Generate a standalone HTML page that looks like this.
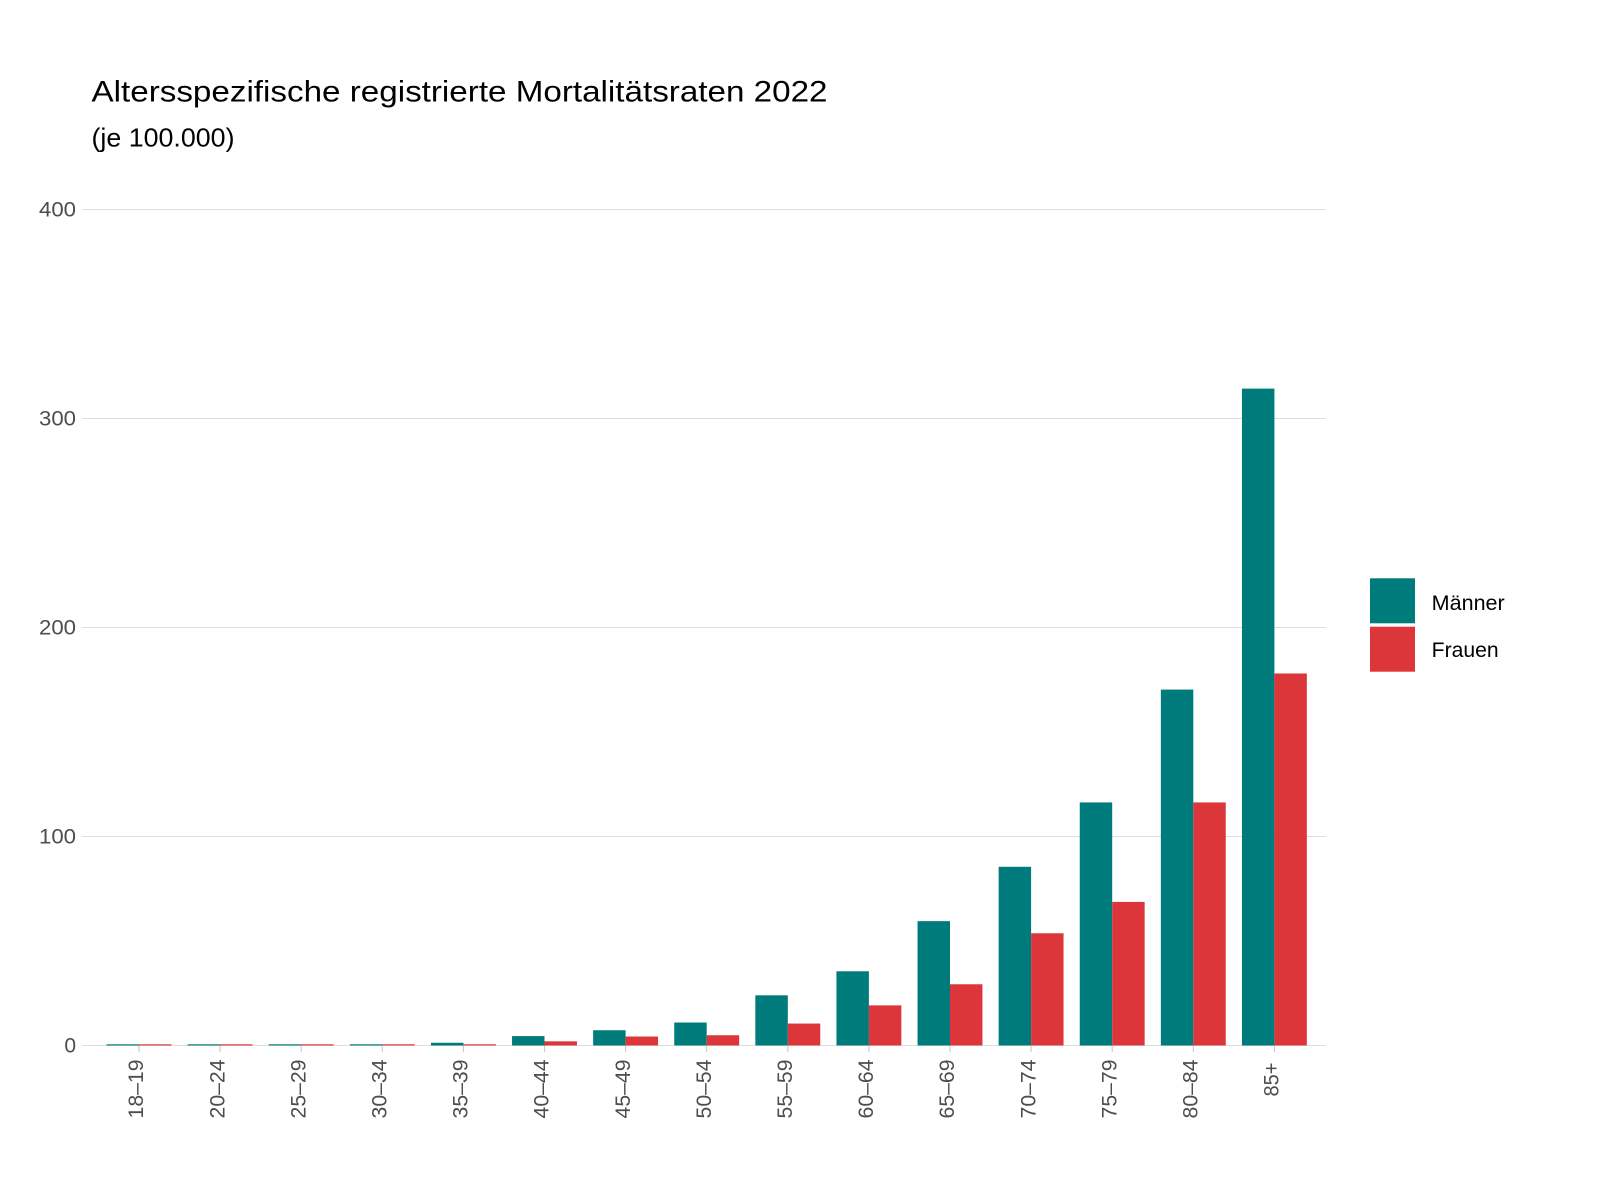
<!DOCTYPE html>
<html>
<head>
<meta charset="utf-8">
<style>
  html, body { margin: 0; padding: 0; background: #ffffff; }
  svg { display: block; }
  text { font-family: "Liberation Sans", Arial, sans-serif; }
</style>
</head>
<body>
<svg width="1600" height="1200" viewBox="0 0 1600 1200" xmlns="http://www.w3.org/2000/svg">
  <rect x="0" y="0" width="1600" height="1200" fill="#ffffff"/>

  <!-- Title -->
  <text x="91.5" y="101.7" font-size="30" fill="#000000" textLength="736" lengthAdjust="spacingAndGlyphs">Altersspezifische registrierte Mortalitätsraten 2022</text>
  <text x="91.5" y="146.7" font-size="26" fill="#000000" textLength="143" lengthAdjust="spacingAndGlyphs">(je 100.000)</text>

  <!-- Gridlines -->
  <g stroke="#DEDEDE" stroke-width="1.1">
    <line x1="82" y1="209.5" x2="1326" y2="209.5"/>
    <line x1="82" y1="418.5" x2="1326" y2="418.5"/>
    <line x1="82" y1="627.5" x2="1326" y2="627.5"/>
    <line x1="82" y1="836.5" x2="1326" y2="836.5"/>
    <line x1="82" y1="1045.5" x2="1326" y2="1045.5"/>
  </g>

  <!-- Y axis labels -->
  <g font-size="21" fill="#4D4D4D" text-anchor="end">
    <text x="76" y="216.5" textLength="37" lengthAdjust="spacingAndGlyphs">400</text>
    <text x="76" y="425.5" textLength="37" lengthAdjust="spacingAndGlyphs">300</text>
    <text x="76" y="634.5" textLength="37" lengthAdjust="spacingAndGlyphs">200</text>
    <text x="76" y="843.5" textLength="37" lengthAdjust="spacingAndGlyphs">100</text>
    <text x="76" y="1052.5">0</text>
  </g>

  <!-- X ticks -->
  <g stroke="#C8C8C8" stroke-width="1.1">
    <line x1="139.0" y1="1045.5" x2="139.0" y2="1052"/>
    <line x1="220.1" y1="1045.5" x2="220.1" y2="1052"/>
    <line x1="301.2" y1="1045.5" x2="301.2" y2="1052"/>
    <line x1="382.3" y1="1045.5" x2="382.3" y2="1052"/>
    <line x1="463.4" y1="1045.5" x2="463.4" y2="1052"/>
    <line x1="544.5" y1="1045.5" x2="544.5" y2="1052"/>
    <line x1="625.6" y1="1045.5" x2="625.6" y2="1052"/>
    <line x1="706.7" y1="1045.5" x2="706.7" y2="1052"/>
    <line x1="787.8" y1="1045.5" x2="787.8" y2="1052"/>
    <line x1="868.9" y1="1045.5" x2="868.9" y2="1052"/>
    <line x1="950.0" y1="1045.5" x2="950.0" y2="1052"/>
    <line x1="1031.1" y1="1045.5" x2="1031.1" y2="1052"/>
    <line x1="1112.2" y1="1045.5" x2="1112.2" y2="1052"/>
    <line x1="1193.3" y1="1045.5" x2="1193.3" y2="1052"/>
    <line x1="1274.4" y1="1045.5" x2="1274.4" y2="1052"/>
  </g>

  <!-- Bars: Männer (teal) -->
  <g fill="#007B7B">
    <rect x="106.55" y="1044.3" width="32.45" height="1.2"/>
    <rect x="187.65" y="1044.3" width="32.45" height="1.2"/>
    <rect x="268.75" y="1044.3" width="32.45" height="1.2"/>
    <rect x="349.85" y="1044.3" width="32.45" height="1.2"/>
    <rect x="430.95" y="1042.78" width="32.45" height="2.72"/>
    <rect x="512.05" y="1036.09" width="32.45" height="9.41"/>
    <rect x="593.15" y="1030.24" width="32.45" height="15.26"/>
    <rect x="674.25" y="1022.51" width="32.45" height="22.99"/>
    <rect x="755.35" y="995.34" width="32.45" height="50.16"/>
    <rect x="836.45" y="971.3" width="32.45" height="74.2"/>
    <rect x="917.55" y="921.14" width="32.45" height="124.36"/>
    <rect x="998.65" y="866.8" width="32.45" height="178.7"/>
    <rect x="1079.75" y="802.43" width="32.45" height="243.07"/>
    <rect x="1160.85" y="689.57" width="32.45" height="355.93"/>
    <rect x="1241.95" y="388.61" width="32.45" height="656.89"/>
  </g>

  <!-- Bars: Frauen (red) -->
  <g fill="#DC363A">
    <rect x="139.0" y="1044.3" width="32.45" height="1.2"/>
    <rect x="220.1" y="1044.3" width="32.45" height="1.2"/>
    <rect x="301.2" y="1044.3" width="32.45" height="1.2"/>
    <rect x="382.3" y="1044.3" width="32.45" height="1.2"/>
    <rect x="463.4" y="1044.3" width="32.45" height="1.2"/>
    <rect x="544.5" y="1041.32" width="32.45" height="4.18"/>
    <rect x="625.6" y="1036.51" width="32.45" height="8.99"/>
    <rect x="706.7" y="1035.26" width="32.45" height="10.24"/>
    <rect x="787.8" y="1023.55" width="32.45" height="21.95"/>
    <rect x="868.9" y="1005.37" width="32.45" height="40.13"/>
    <rect x="950.0" y="984.26" width="32.45" height="61.24"/>
    <rect x="1031.1" y="933.27" width="32.45" height="112.23"/>
    <rect x="1112.2" y="901.92" width="32.45" height="143.58"/>
    <rect x="1193.3" y="802.43" width="32.45" height="243.07"/>
    <rect x="1274.4" y="673.48" width="32.45" height="372.02"/>
  </g>

  <!-- X axis labels (rotated) -->
  <g font-size="21" fill="#4D4D4D" text-anchor="end">
    <text transform="translate(143.2,1059.5) rotate(-90)" textLength="59" lengthAdjust="spacingAndGlyphs">18–19</text>
    <text transform="translate(224.3,1059.5) rotate(-90)" textLength="59" lengthAdjust="spacingAndGlyphs">20–24</text>
    <text transform="translate(305.4,1059.5) rotate(-90)" textLength="59" lengthAdjust="spacingAndGlyphs">25–29</text>
    <text transform="translate(386.5,1059.5) rotate(-90)" textLength="59" lengthAdjust="spacingAndGlyphs">30–34</text>
    <text transform="translate(467.6,1059.5) rotate(-90)" textLength="59" lengthAdjust="spacingAndGlyphs">35–39</text>
    <text transform="translate(548.7,1059.5) rotate(-90)" textLength="59" lengthAdjust="spacingAndGlyphs">40–44</text>
    <text transform="translate(629.8,1059.5) rotate(-90)" textLength="59" lengthAdjust="spacingAndGlyphs">45–49</text>
    <text transform="translate(710.9,1059.5) rotate(-90)" textLength="59" lengthAdjust="spacingAndGlyphs">50–54</text>
    <text transform="translate(792.0,1059.5) rotate(-90)" textLength="59" lengthAdjust="spacingAndGlyphs">55–59</text>
    <text transform="translate(873.1,1059.5) rotate(-90)" textLength="59" lengthAdjust="spacingAndGlyphs">60–64</text>
    <text transform="translate(954.2,1059.5) rotate(-90)" textLength="59" lengthAdjust="spacingAndGlyphs">65–69</text>
    <text transform="translate(1035.3,1059.5) rotate(-90)" textLength="59" lengthAdjust="spacingAndGlyphs">70–74</text>
    <text transform="translate(1116.4,1059.5) rotate(-90)" textLength="59" lengthAdjust="spacingAndGlyphs">75–79</text>
    <text transform="translate(1197.5,1059.5) rotate(-90)" textLength="59" lengthAdjust="spacingAndGlyphs">80–84</text>
    <text transform="translate(1278.6,1062.5) rotate(-90)" textLength="34" lengthAdjust="spacingAndGlyphs">85+</text>
  </g>

  <!-- Legend -->
  <rect x="1370" y="578.3" width="45" height="45" fill="#007B7B"/>
  <rect x="1370" y="626.7" width="45" height="45" fill="#DC363A"/>
  <text x="1431.7" y="610" font-size="21" fill="#000000" textLength="73" lengthAdjust="spacingAndGlyphs">Männer</text>
  <text x="1431.7" y="657" font-size="21" fill="#000000" textLength="67" lengthAdjust="spacingAndGlyphs">Frauen</text>
</svg>
</body>
</html>
